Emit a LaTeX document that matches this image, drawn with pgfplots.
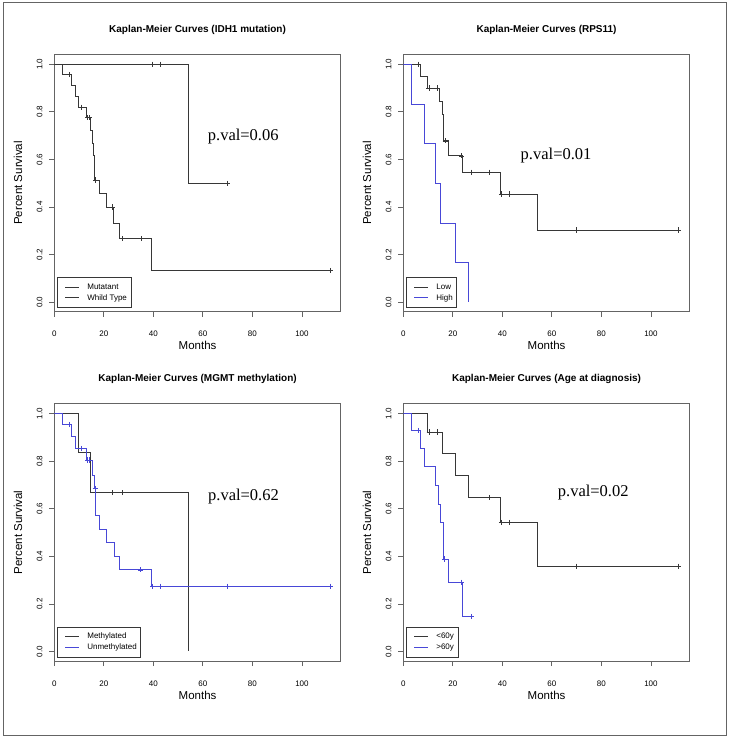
\documentclass[border=0pt]{standalone}
\usepackage{pgfplots}
\pgfplotsset{compat=1.18}
\usepackage{fontspec}
\setmainfont{Liberation Sans}
\newfontfamily\serifpv{Liberation Serif}
\definecolor{kmblue}{RGB}{72,72,215}
\definecolor{kmblack}{RGB}{55,55,55}
\definecolor{boxgray}{RGB}{100,100,100}
\pgfplotsset{
  legline/.style={legend image code/.code={\path[draw=none,fill=none] (0pt,-2pt) rectangle (18.3pt,2pt); \draw[draw=#1, color=#1, line width=1pt] (4.3pt,0pt) -- (18.3pt,0pt);}},
  kmb/.style={const plot, draw=kmblack, color=kmblack, legline=kmblack},
  kmu/.style={const plot, draw=kmblue, color=kmblue, legline=kmblue},
  km/.style={
    scale only axis, width=286.5pt, height=257.4pt,
    xmin=0, xmax=115.7, ymin=-0.04, ymax=1.042,
    xtick={0,20,40,60,80,100},
    ytick={0,0.2,0.4,0.6,0.8,1.0},
    yticklabels={0.0,0.2,0.4,0.6,0.8,1.0},
    /pgf/number format/assume math mode=true,
    tick align=outside, major tick length=5pt,
    tick style={boxgray, line width=0.8pt},
    xtick pos=bottom, ytick pos=left,
    axis line style={boxgray, line width=0.9pt},
    ticklabel style={font=\fontsize{8}{9}\selectfont, inner sep=0pt},
    xticklabel style={anchor=base, yshift=-20pt},
    yticklabel style={xshift=-7pt, rotate=90, anchor=base},
    title style={font=\fontsize{10}{12}\selectfont\bfseries, at={(axis description cs:0.5,1)}, anchor=base, yshift=16pt},
    xlabel style={font=\fontsize{11.5}{13}\selectfont, at={(axis description cs:0.5,0)}, anchor=base, yshift=-38pt},
    ylabel style={font=\fontsize{11.5}{13}\selectfont, at={(axis description cs:-0.112,0.5)}, anchor=base, rotate=0},
    xlabel={Months}, ylabel={Percent Survival},
    legend style={at={(axis description cs:0.0084,0.0144)}, anchor=south west,
      draw=kmblack, line width=0.7pt, fill=white, inner xsep=4pt, inner ysep=6pt,
      font=\fontsize{8}{9}\selectfont, row sep=3pt, column sep=7.5pt,
      nodes={inner sep=0pt, text height=6pt, text depth=1.5pt}},
    legend cell align=left,
    every axis plot/.append style={line width=0.8pt},
    cens/.style={only marks, mark=+, mark size=2.6pt, forget plot, mark options={line width=0.7pt}},
  }
}
\begin{document}
\begin{tikzpicture}[x=1pt,y=1pt]
\path (0,0) rectangle (729,739);
\draw[boxgray, line width=1pt] (3,3) rectangle (726,736);

% Panel 1
\begin{axis}[km, at={(54.3pt,427.3pt)}, anchor=south west,
  title={Kaplan-Meier Curves (IDH1 mutation)}]
\addplot[kmb] coordinates {(0,1)(54,0.5)(70,0.5)};
\addlegendentry{Mutatant}
\addplot[kmb] coordinates {(0,1)(3.3,0.957)(7.0,0.911)(8.6,0.865)(9.8,0.819)(13.0,0.775)(14.7,0.720)(15.3,0.668)(15.9,0.619)(16.3,0.514)(18.2,0.458)(21.1,0.400)(23.9,0.333)(26.2,0.267)(39.1,0.133)(111.5,0.133)};
\addlegendentry{Whild Type}
\addplot[cens, kmblack] coordinates {(39.7,1)(42.9,1)(70,0.5)};
\addplot[cens, kmblack] coordinates {(5.9,0.957)(10.9,0.819)(13.5,0.775)(14.2,0.775)(16.7,0.514)(23.6,0.400)(27.5,0.267)(35.0,0.267)(111.5,0.133)};
\node[font=\serifpv\fontsize{16.5}{18}\selectfont] at (axis cs:76.3,0.696) {p.val=0.06};
\end{axis}

% Panel 2
\begin{axis}[km, at={(403.3pt,427.3pt)}, anchor=south west,
  title={Kaplan-Meier Curves (RPS11)}]
\addplot[kmb] coordinates {(0,1)(7.0,0.951)(9.9,0.900)(14.6,0.844)(15.8,0.788)(16.3,0.678)(18.3,0.615)(24.0,0.546)(39.1,0.455)(54.1,0.303)(111.2,0.303)};
\addlegendentry{Low}
\addplot[kmu] coordinates {(0,1)(3.3,0.833)(8.5,0.667)(13.0,0.5)(15.0,0.333)(20.9,0.167)(26.2,0)};
\addlegendentry{High}
\addplot[cens, kmblack] coordinates {(6.0,1)(10.4,0.9)(13.9,0.9)(16.9,0.678)(23.6,0.615)(27.5,0.546)(34.9,0.546)(39.6,0.455)(42.7,0.455)(69.9,0.303)(111.2,0.303)};
\node[font=\serifpv\fontsize{16.5}{18}\selectfont] at (axis cs:61.7,0.615) {p.val=0.01};
\end{axis}

% Panel 3
\begin{axis}[km, at={(54.3pt,78pt)}, anchor=south west,
  title={Kaplan-Meier Curves (MGMT methylation)}]
\addplot[kmb] coordinates {(0,1)(9.7,0.835)(14.4,0.667)(54.0,0)};
\addlegendentry{Methylated}
\addplot[kmu] coordinates {(0,1)(3.3,0.954)(7.0,0.903)(8.5,0.853)(12.9,0.805)(15.3,0.742)(16.0,0.686)(16.7,0.571)(18.1,0.515)(21.2,0.457)(24.1,0.400)(26.2,0.343)(39.2,0.274)(111.4,0.274)};
\addlegendentry{Unmethylated}
\addplot[cens, kmblack] coordinates {(23.5,0.667)(27.4,0.667)};
\addplot[cens, kmblue] coordinates {(5.9,0.954)(10.8,0.853)(13.5,0.805)(14.2,0.805)(16.5,0.686)(34.9,0.343)(39.7,0.274)(43.0,0.274)(69.9,0.274)(111.4,0.274)};
\node[font=\serifpv\fontsize{16.5}{18}\selectfont] at (axis cs:76.4,0.652) {p.val=0.62};
\end{axis}

% Panel 4
\begin{axis}[km, at={(403.3pt,78pt)}, anchor=south west,
  title={Kaplan-Meier Curves (Age at diagnosis)}]
\addplot[kmb] coordinates {(0,1)(9.7,0.923)(15.6,0.832)(20.9,0.739)(26.2,0.647)(39.1,0.542)(54.2,0.358)(111.2,0.358)};
\addlegendentry{<60y}
\addplot[kmu] coordinates {(0,1)(3.3,0.929)(7.0,0.853)(8.5,0.776)(13.0,0.697)(14.2,0.620)(14.8,0.543)(16.1,0.389)(18.2,0.291)(24.0,0.146)(27.6,0.146)};
\addlegendentry{>60y}
\addplot[cens, kmblack] coordinates {(10.5,0.923)(13.7,0.923)(34.9,0.647)(39.6,0.542)(42.7,0.542)(69.9,0.358)(111.2,0.358)};
\addplot[cens, kmblue] coordinates {(6.0,0.929)(16.6,0.389)(23.6,0.291)(27.6,0.146)};
\node[font=\serifpv\fontsize{16.5}{18}\selectfont] at (axis cs:76.7,0.667) {p.val=0.02};
\end{axis}
\end{tikzpicture}
\end{document}
